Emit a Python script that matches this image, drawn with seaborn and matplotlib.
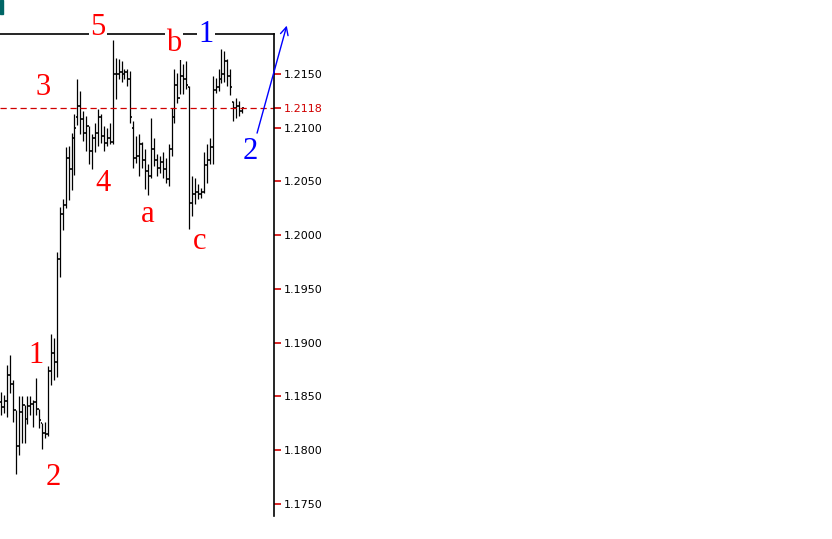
import numpy as np
import pandas as pd
import seaborn as sns
import matplotlib.pyplot as plt
from matplotlib.patches import Rectangle

# OHLC bars
highs = [1.1854, 1.1851, 1.1879, 1.1889, 1.1865, 1.1837, 1.1850, 1.1850, 1.1842, 1.1850,
         1.1850, 1.1847, 1.1867, 1.1838, 1.1825, 1.1826, 1.1878, 1.1908, 1.1904, 1.1984,
         1.2026, 1.2034, 1.2082, 1.2083, 1.2095, 1.2113, 1.2145, 1.2134, 1.2116, 1.2111,
         1.2102, 1.2094, 1.2104, 1.2117, 1.2113, 1.2102, 1.2100, 1.2104, 1.2182, 1.2165,
         1.2164, 1.2162, 1.2155, 1.2155, 1.2153, 1.2106, 1.2092, 1.2094, 1.2087, 1.2080,
         1.2066, 1.2109, 1.2090, 1.2076, 1.2074, 1.2077, 1.2072, 1.2085, 1.2118, 1.2155,
         1.2151, 1.2164, 1.2159, 1.2162, 1.2139, 1.2055, 1.2053, 1.2048, 1.2044, 1.2077,
         1.2085, 1.2090, 1.2148, 1.2146, 1.2155, 1.2173, 1.2171, 1.2164, 1.2155, 1.2125,
         1.2128, 1.2125, 1.2118]
lows = [1.1833, 1.1835, 1.1831, 1.1853, 1.1826, 1.1778, 1.1796, 1.1807, 1.1807, 1.1824,
        1.1833, 1.1822, 1.1833, 1.1821, 1.1801, 1.1811, 1.1813, 1.1861, 1.1865, 1.1868,
        1.1961, 1.2005, 1.2025, 1.2033, 1.2042, 1.2056, 1.2103, 1.2094, 1.2088, 1.2078,
        1.2066, 1.2062, 1.2077, 1.2083, 1.2086, 1.2078, 1.2083, 1.2085, 1.2085, 1.2127,
        1.2145, 1.2143, 1.2145, 1.2139, 1.2104, 1.2063, 1.2067, 1.2055, 1.2063, 1.2043,
        1.2037, 1.2053, 1.2064, 1.2055, 1.2058, 1.2053, 1.2049, 1.2046, 1.2074, 1.2104,
        1.2123, 1.2131, 1.2131, 1.2136, 1.2006, 1.2018, 1.2029, 1.2034, 1.2035, 1.2039,
        1.2049, 1.2066, 1.2066, 1.2132, 1.2134, 1.2142, 1.2143, 1.2139, 1.2130, 1.2106,
        1.2109, 1.2111, 1.2114]
opens = [1.1845, 1.1840, 1.1846, 1.1870, 1.1862, 1.1837, 1.1804, 1.1836, 1.1842, 1.1829,
         1.1841, 1.1843, 1.1845, 1.1838, 1.1825, 1.1816, 1.1815, 1.1874, 1.1890, 1.1882,
         1.1978, 1.2020, 1.2028, 1.2072, 1.2062, 1.2090, 1.2110, 1.2120, 1.2108, 1.2095,
         1.2102, 1.2078, 1.2090, 1.2095, 1.2110, 1.2092, 1.2086, 1.2090, 1.2087, 1.2150,
         1.2150, 1.2152, 1.2150, 1.2152, 1.2145, 1.2100, 1.2072, 1.2074, 1.2085, 1.2070,
         1.2060, 1.2055, 1.2080, 1.2070, 1.2063, 1.2068, 1.2062, 1.2052, 1.2080, 1.2110,
         1.2140, 1.2128, 1.2148, 1.2145, 1.2138, 1.2030, 1.2038, 1.2040, 1.2038, 1.2040,
         1.2065, 1.2070, 1.2082, 1.2135, 1.2138, 1.2145, 1.2150, 1.2162, 1.2148, 1.2124,
         1.2118, 1.2120, 1.2116]
closes = [1.1840, 1.1846, 1.1870, 1.1862, 1.1848, 1.1804, 1.1836, 1.1842, 1.1829, 1.1841,
          1.1843, 1.1845, 1.1838, 1.1828, 1.1816, 1.1815, 1.1874, 1.1890, 1.1882, 1.1978,
          1.2020, 1.2028, 1.2072, 1.2062, 1.2090, 1.2100, 1.2120, 1.2108, 1.2095, 1.2102,
          1.2078, 1.2090, 1.2095, 1.2110, 1.2092, 1.2086, 1.2090, 1.2087, 1.2150, 1.2140,
          1.2152, 1.2150, 1.2152, 1.2145, 1.2110, 1.2072, 1.2074, 1.2085, 1.2070, 1.2060,
          1.2050, 1.2080, 1.2070, 1.2063, 1.2068, 1.2062, 1.2052, 1.2080, 1.2110, 1.2140,
          1.2128, 1.2148, 1.2145, 1.2140, 1.2030, 1.2038, 1.2040, 1.2038, 1.2040, 1.2065,
          1.2060, 1.2082, 1.2135, 1.2138, 1.2140, 1.2150, 1.2162, 1.2148, 1.2138, 1.2118,
          1.2120, 1.2116, 1.2118]

current_price = 1.2118
price_ticks = [1.1750, 1.1800, 1.1850, 1.1900, 1.1950, 1.2000, 1.2050, 1.2100, 1.2150]

# wave labels: (bar position, price, text, colour)
wave_labels = [
    (33.0, 1.2193, "5", "red"),
    (58.8, 1.2178, "b", "red"),
    (69.8, 1.2187, "1", "blue"),
    (14.3, 1.2137, "3", "red"),
    (34.7, 1.2048, "4", "red"),
    (50.0, 1.2019, "a", "red"),
    (67.7, 1.1994, "c", "red"),
    (12.0, 1.1888, "1", "red"),
    (17.7, 1.1775, "2", "red"),
    (84.7, 1.2078, "2", "blue"),
]
arrow_start = (87.1, 1.2095)
arrow_end = (97.2, 1.2195)

df = pd.DataFrame({"open": opens, "high": highs, "low": lows, "close": closes})
df["bar"] = np.arange(len(df))

sns.set_style("white")
fig = plt.figure(figsize=(8.32, 5.39), dpi=100)
ax = fig.add_axes([0, 23 / 539, 274 / 832, 482 / 539])

# high-low ranges
ax.vlines(df["bar"], df["low"], df["high"], color="black", lw=0.9)
# open (left) and close (right) ticks
ax.hlines(df["open"], df["bar"] - 0.5, df["bar"], color="black", lw=1.2)
ax.hlines(df["close"], df["bar"], df["bar"] + 0.5, color="black", lw=1.2)

ax.axhline(current_price, color="#d00000", lw=0.9, ls=(0, (5, 3)))

ax.set_xlim(-0.34, 92.86)
ax.set_ylim(1.17388, 1.21872)

for s in ["left", "bottom"]:
    ax.spines[s].set_visible(False)
for s in ["top", "right"]:
    ax.spines[s].set_color("black")
    ax.spines[s].set_linewidth(1.2)

ax.set_xticks([])
ax.yaxis.tick_right()
ax.set_yticks(price_ticks + [current_price])
ax.set_yticklabels([f"{p:.4f}" for p in price_ticks] + [f"{current_price:.4f}"])
ax.tick_params(axis="y", length=5, width=1.2, color="#d00000", pad=2,
               labelsize=8, labelcolor="black")
ax.get_yticklabels()[-1].set_color("#d00000")

for x, y, t, c in wave_labels:
    ax.text(x, y, t, color=c, fontsize=22, family="Liberation Serif",
            ha="center", va="center", clip_on=False,
            bbox=dict(facecolor="white", edgecolor="none", pad=1))

ax.annotate("", xy=arrow_end, xytext=arrow_start, annotation_clip=False,
            arrowprops=dict(arrowstyle="->", color="blue", lw=1,
                            shrinkA=0, shrinkB=0, mutation_scale=14))

fig.patches.append(Rectangle((0, 525 / 539), 3 / 832, 14 / 539,
                             transform=fig.transFigure, color="#006666"))

fig.savefig("out.png", dpi=100)
